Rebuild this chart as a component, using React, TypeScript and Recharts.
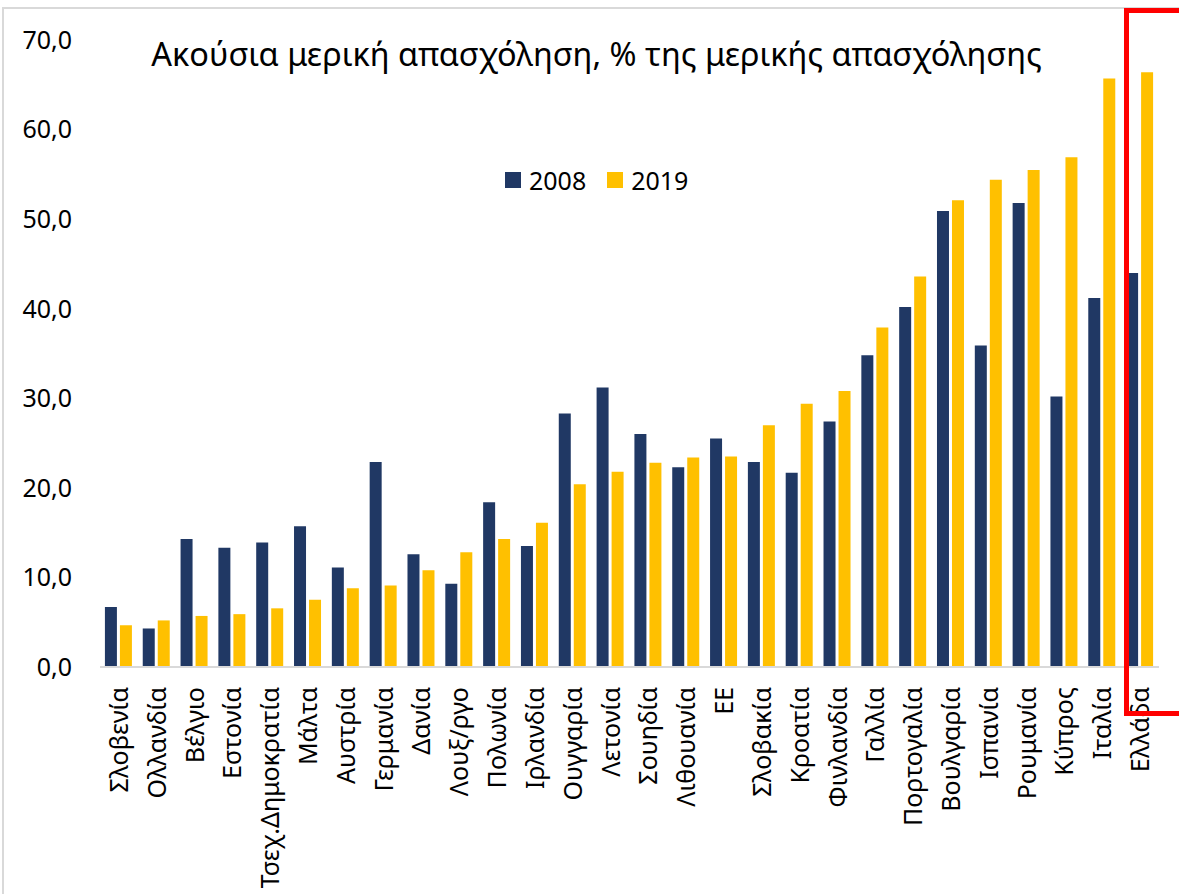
import React from "react";
import { BarChart, Bar, XAxis, YAxis, Legend } from "recharts";

const categories = [
  "Σλοβενία", "Ολλανδία", "Βέλγιο", "Εστονία", "Τσεχ.Δημοκρατία", "Μάλτα", "Αυστρία",
  "Γερμανία", "Δανία", "Λουξ/ργο", "Πολωνία", "Ιρλανδία", "Ουγγαρία", "Λετονία",
  "Σουηδία", "Λιθουανία", "ΕΕ", "Σλοβακία", "Κροατία", "Φινλανδία", "Γαλλία",
  "Πορτογαλία", "Βουλγαρία", "Ισπανία", "Ρουμανία", "Κύπρος", "Ιταλία", "Ελλάδα",
];
const values2008 = [
  6.7, 4.3, 14.3, 13.3, 13.9, 15.7, 11.1, 22.9, 12.6, 9.3, 18.4, 13.5, 28.3, 31.2,
  26.0, 22.3, 25.5, 22.9, 21.7, 27.4, 34.8, 40.2, 50.9, 35.9, 51.8, 30.2, 41.2, 44.0,
];
const values2019 = [
  4.65, 5.2, 5.7, 5.9, 6.55, 7.5, 8.8, 9.1, 10.8, 12.8, 14.3, 16.1, 20.4, 21.8,
  22.8, 23.4, 23.5, 27.0, 29.4, 30.8, 37.9, 43.6, 52.1, 54.4, 55.5, 56.9, 65.7, 66.4,
];
const yTicks = [0, 10, 20, 30, 40, 50, 60, 70];
const seriesNames = ["2008", "2019"];
const title = "Ακούσια μερική απασχόληση, % της μερικής απασχόλησης";

const FONT = "'Noto Sans', 'Open Sans', sans-serif";
const BLUE = "#203864";
const YELLOW = "#FFC000";

const data = categories.map((c, i) => ({ name: c, v2008: values2008[i], v2019: values2019[i] }));

const CatTick = (props: any) => {
  const { x, y, payload } = props;
  return (
    <text
      x={0}
      y={0}
      transform={`translate(${x},${y + 20}) rotate(-90)`}
      textAnchor="end"
      dy="0.36em"
      fontSize={25}
      fill="#000"
      fontFamily={FONT}
    >
      {payload.value}
    </text>
  );
};

const LegendContent = (props: any) => {
  const { payload } = props;
  return (
    <div style={{ display: "flex", alignItems: "center", fontFamily: FONT, fontSize: 25, color: "#000" }}>
      {(payload || []).map((p: any, i: number) => (
        <div key={i} style={{ display: "flex", alignItems: "center", marginRight: i === 0 ? 21 : 0 }}>
          <div style={{ width: 16, height: 16, background: p.color, marginRight: 8 }} />
          <span style={{ lineHeight: "30px" }}>{p.value}</span>
        </div>
      ))}
    </div>
  );
};

export default function App() {
  return (
    <div style={{ position: "absolute", left: 0, top: 0, width: 1179, height: 894, background: "#fff", overflow: "hidden" }}>
      <div style={{ position: "absolute", left: 2, top: 7, width: 1300, height: 1000, borderTop: "2px solid #d9d9d9", borderLeft: "2px solid #d9d9d9" }} />
      <div
        style={{
          position: "absolute",
          left: 0,
          width: 1193,
          top: 34,
          textAlign: "center",
          fontFamily: FONT,
          fontSize: 32.5,
          lineHeight: "40px",
          color: "#000",
          whiteSpace: "nowrap",
        }}
      >
        {title}
      </div>
      <div style={{ position: "absolute", left: 0, top: 0 }}>
        <BarChart
          width={1179}
          height={894}
          data={data}
          margin={{ top: 40, right: 20, bottom: 0, left: 0 }}
          barCategoryGap="13%"
          barGap={3}
        >
          <XAxis
            dataKey="name"
            interval={0}
            height={227}
            tickLine={false}
            tickSize={0}
            tickMargin={0}
            axisLine={{ stroke: "#d9d9d9", strokeWidth: 2 }}
            tick={<CatTick />}
          />
          <YAxis
            domain={[0, 70]}
            ticks={yTicks}
            width={100}
            axisLine={false}
            tickLine={false}
            tickSize={0}
            tickMargin={28}
            tickFormatter={(v: number) => v.toFixed(1).replace(".", ",")}
            tick={{ fontSize: 25, fill: "#000", fontFamily: FONT }}
          />
          <Legend
            verticalAlign="middle"
            align="center"
            layout="horizontal"
            content={<LegendContent />}
            wrapperStyle={{ position: "absolute", top: 165, left: 505, width: "auto" }}
          />
          <Bar dataKey="v2008" name={seriesNames[0]} fill={BLUE} isAnimationActive={false} />
          <Bar dataKey="v2019" name={seriesNames[1]} fill={YELLOW} isAnimationActive={false} />
        </BarChart>
      </div>
      <div
        style={{
          position: "absolute",
          left: 1124,
          top: 8,
          width: 60,
          height: 698,
          borderTop: "5px solid #ff0000",
          borderLeft: "5px solid #ff0000",
          borderBottom: "5px solid #ff0000",
        }}
      />
    </div>
  );
}
